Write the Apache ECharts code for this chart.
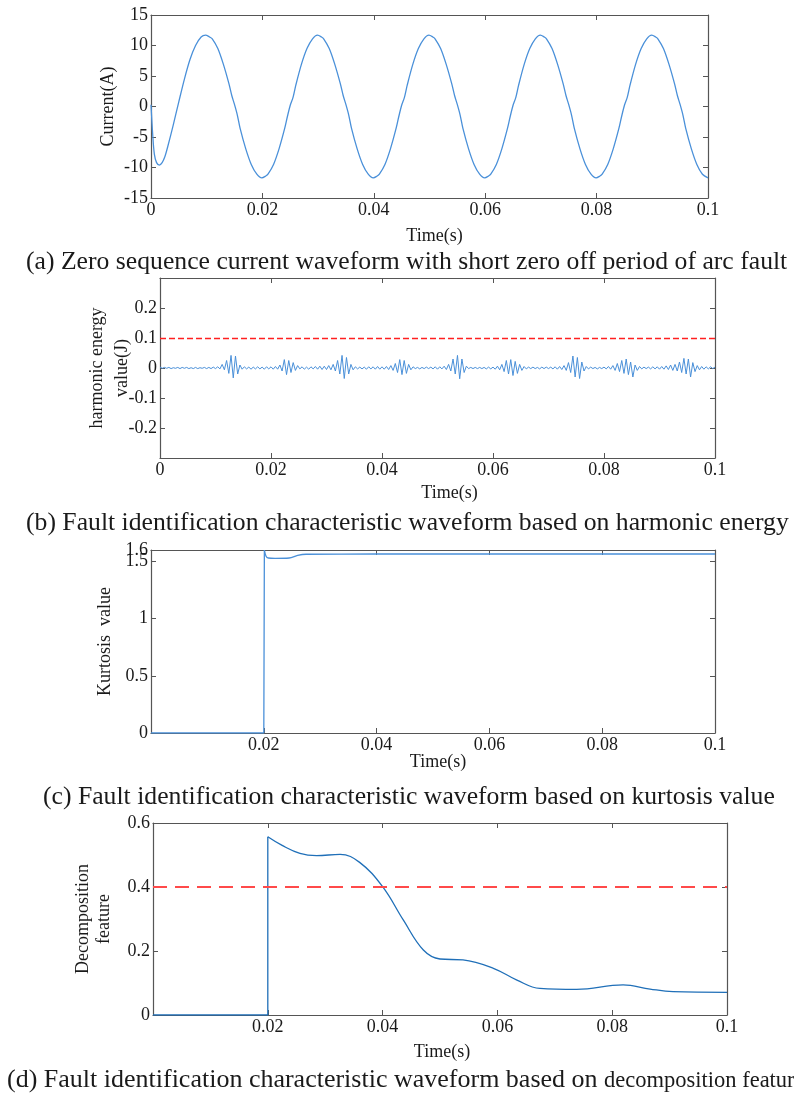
<!DOCTYPE html>
<html>
<head>
<meta charset="utf-8">
<script src="https://cdn.jsdelivr.net/npm/echarts@6/dist/echarts.min.js"></script>
<style>
  html, body { margin: 0; padding: 0; background: #fff; }
  #chart { width: 794px; height: 1093px; }
</style>
</head>
<body>
<div id="chart"></div>
<script>
// (a) zero sequence current, [time s, current A]
const currentWave = [
  [0, 0.3], [0.0003, -4.5], [0.0006, -7.8], [0.001, -9.2], [0.0015, -9.6], [0.002, -9.2],
  [0.0025, -8.2], [0.003, -6.6], [0.004, -3.0], [0.005, 0.8], [0.006, 4.5], [0.007, 7.7],
  [0.008, 10.0], [0.009, 11.4], [0.0098, 11.7], [0.0105, 11.4], [0.011, 11.1], [0.012, 9.5],
  [0.013, 6.9], [0.014, 3.7], [0.0145, 1.8], [0.015, 0.3], [0.0155, -1.4], [0.016, -3.6],
  [0.017, -6.9], [0.018, -9.5], [0.019, -11.1], [0.0199, -11.7],
  [0.0206, -11.4], [0.021, -11.1], [0.022, -9.5], [0.023, -6.9], [0.024, -3.6], [0.0245, -1.6],
  [0.025, 0.2], [0.0255, 1.5], [0.026, 3.5], [0.027, 6.9], [0.028, 9.5], [0.029, 11.1],
  [0.0299, 11.7], [0.0306, 11.4], [0.031, 11.1], [0.032, 9.5], [0.033, 6.9], [0.034, 3.7],
  [0.0345, 1.8], [0.035, 0.3], [0.0355, -1.4], [0.036, -3.6], [0.037, -6.9], [0.038, -9.5],
  [0.039, -11.1], [0.0399, -11.7],
  [0.0406, -11.4], [0.041, -11.1], [0.042, -9.5], [0.043, -6.9], [0.044, -3.6], [0.0445, -1.6],
  [0.045, 0.2], [0.0455, 1.5], [0.046, 3.5], [0.047, 6.9], [0.048, 9.5], [0.049, 11.1],
  [0.0499, 11.7], [0.0506, 11.4], [0.051, 11.1], [0.052, 9.5], [0.053, 6.9], [0.054, 3.7],
  [0.0545, 1.8], [0.055, 0.3], [0.0555, -1.4], [0.056, -3.6], [0.057, -6.9], [0.058, -9.5],
  [0.059, -11.1], [0.0599, -11.7],
  [0.0606, -11.4], [0.061, -11.1], [0.062, -9.5], [0.063, -6.9], [0.064, -3.6], [0.0645, -1.6],
  [0.065, 0.2], [0.0655, 1.5], [0.066, 3.5], [0.067, 6.9], [0.068, 9.5], [0.069, 11.1],
  [0.0699, 11.7], [0.0706, 11.4], [0.071, 11.1], [0.072, 9.5], [0.073, 6.9], [0.074, 3.7],
  [0.0745, 1.8], [0.075, 0.3], [0.0755, -1.4], [0.076, -3.6], [0.077, -6.9], [0.078, -9.5],
  [0.079, -11.1], [0.0799, -11.7],
  [0.0806, -11.4], [0.081, -11.1], [0.082, -9.5], [0.083, -6.9], [0.084, -3.6], [0.0845, -1.6],
  [0.085, 0.2], [0.0855, 1.5], [0.086, 3.5], [0.087, 6.9], [0.088, 9.5], [0.089, 11.1],
  [0.0899, 11.7], [0.0906, 11.4], [0.091, 11.1], [0.092, 9.5], [0.093, 6.9], [0.094, 3.7],
  [0.0945, 1.8], [0.095, 0.3], [0.0955, -1.4], [0.096, -3.6], [0.097, -6.9], [0.098, -9.5],
  [0.099, -11.1], [0.1, -11.7]
];

// (b) harmonic energy, one value every 0.0004 s from 0 to 0.1
const harmonicStep = 0.0004;
const harmonicEnergy = [
  0.003, -0.001, 0.002, -0.001, 0.002, -0.002, 0.001, -0.001, 0.002, -0.002, 0.002, -0.001, 0.002,
  -0.002, 0.001, -0.002, 0.002, -0.002, 0.001, -0.001, 0.002, -0.002, 0.002, -0.002, 0.003,
  -0.002, 0.004, -0.003, 0.012, -0.006, 0.025, -0.018, 0.042, -0.033, 0.04, -0.02, 0.01, -0.004,
  0.004, -0.003, 0.003, -0.004, 0.003, -0.003, 0.004, -0.003, 0.003, -0.004, 0.004, -0.003,
  0.004, -0.004, 0.005, -0.004, 0.01, -0.01, 0.028, -0.022, 0.025, -0.015, 0.018, -0.008, 0.008,
  -0.003, 0.004, -0.004, 0.003, -0.004, 0.004, -0.003, 0.005, -0.004, 0.006, -0.005, 0.006,
  -0.005, 0.008, -0.006, 0.012, -0.01, 0.025, -0.02, 0.042, -0.035, 0.035, -0.02, 0.012, -0.006,
  0.004, -0.003, 0.003, -0.003, 0.003, -0.004, 0.004, -0.003, 0.004, -0.004, 0.005, -0.004,
  0.004, -0.004, 0.005, -0.005, 0.008, -0.008, 0.015, -0.015, 0.028, -0.022, 0.025, -0.018, 0.012,
  -0.006, 0.004, -0.002, 0.002, -0.003, 0.002, -0.002, 0.003, -0.002, 0.003, -0.003, 0.004,
  -0.004, 0.004, -0.003, 0.006, -0.005, 0.012, -0.01, 0.03, -0.02, 0.042, -0.036, 0.03, -0.015,
  0.006, -0.002, 0.002, -0.002, 0.002, -0.002, 0.002, -0.002, 0.002, -0.003, 0.003, -0.003,
  0.003, -0.004, 0.006, -0.006, 0.012, -0.012, 0.025, -0.02, 0.028, -0.025, 0.022, -0.018, 0.012,
  -0.008, 0.005, -0.003, 0.003, -0.002, 0.003, -0.002, 0.002, -0.003, 0.003, -0.002, 0.003,
  -0.002, 0.003, -0.003, 0.004, -0.004, 0.005, -0.005, 0.008, -0.008, 0.018, -0.015, 0.04, -0.03,
  0.035, -0.035, 0.02, -0.01, 0.005, -0.003, 0.003, -0.002, 0.002, -0.003, 0.002, -0.002,
  0.003, -0.003, 0.005, -0.004, 0.008, -0.008, 0.015, -0.012, 0.025, -0.018, 0.03, -0.022, 0.02,
  -0.03, 0.01, -0.008, 0.005, -0.003, 0.003, -0.002, 0.003, -0.003, 0.004, -0.003, 0.004,
  -0.004, 0.005, -0.004, 0.007, -0.005, 0.01, -0.008, 0.012, -0.01, 0.02, -0.015, 0.032, -0.02,
  0.03, -0.03, 0.018, -0.012, 0.008, -0.006, 0.005, -0.004, 0.004, -0.003, 0.004, -0.002, 0.003
];
const harmonicThreshold = 0.1;

// (c) kurtosis value, [time s, value]
const kurtosisStep = [[0, 0], [0.02, 0], [0.0201, 1.6]];
const kurtosisRest = [[0.0201, 1.6], [0.0204, 1.545], [0.0208, 1.53], [0.022, 1.527], [0.0245, 1.53],
  [0.026, 1.553], [0.0275, 1.563], [0.04, 1.565], [0.1, 1.565]];
const kurtosisTicks = [0, 0.5, 1, 1.5];
const kurtosisTopTick = [1.6];

// (d) decomposition feature, [time s, value]
const decompStep = [[0, 0], [0.02, 0], [0.02, 0.557]];
const decompRest = [[0.02, 0.557], [0.0225, 0.53], [0.0256, 0.505], [0.0285, 0.498], [0.0326, 0.502],
  [0.036, 0.477], [0.04, 0.401], [0.0436, 0.297], [0.0471, 0.203], [0.05, 0.175], [0.054, 0.172],
  [0.0593, 0.146], [0.0634, 0.109], [0.0674, 0.083], [0.0738, 0.08], [0.0819, 0.094],
  [0.0866, 0.081], [0.0906, 0.073], [0.1, 0.071]];
const decompThreshold = 0.4;

const captions = [
  '(a) Zero sequence current waveform with short zero off period of arc fault',
  '(b) Fault identification characteristic waveform based on harmonic energy',
  '(c) Fault identification characteristic waveform based on kurtosis value',
  '(d) Fault identification characteristic waveform based on ',
  'decomposition feature'
];

const FONT = 'Liberation Serif';
const AX = '#555';
const TXT = '#1a1a1a';

const grids = [
  { left: 151, right: 86, top: 15, height: 183 },
  { left: 160, right: 79, top: 278, height: 180 },
  { left: 151, right: 79, top: 550, height: 183 },
  { left: 153, right: 67, top: 823, height: 192 }
];

function xAxes(gi, nameGap, hideZero, nameShift) {
  const base = {
    gridIndex: gi, type: 'value', min: 0, max: 0.1, interval: 0.02,
    splitLine: { show: false },
    axisLine: { show: true, onZero: false, lineStyle: { color: AX, width: 1.2 } },
    axisTick: { show: true, inside: true, length: 5, lineStyle: { color: AX } }
  };
  return [
    Object.assign({}, base, {
      position: 'bottom',
      name: 'Time(s)', nameLocation: 'middle', nameGap: nameGap, nameMoveOverlap: false,
      nameTextStyle: { fontFamily: FONT, fontSize: 18, color: TXT, padding: [0, 0, 0, nameShift || 0] },
      axisLabel: { fontFamily: FONT, fontSize: 18, color: TXT, margin: 3, showMinLabel: !hideZero }
    }),
    Object.assign({}, base, { position: 'top', axisLabel: { show: false } })
  ];
}

function yAxes(gi, cfg) {
  const base = {
    gridIndex: gi, type: 'value', min: cfg.min, max: cfg.max, interval: cfg.interval,
    splitLine: { show: false },
    axisLine: { show: true, onZero: false, lineStyle: { color: AX, width: 1.2 } },
    axisTick: Object.assign({ show: true, inside: true, length: 5, lineStyle: { color: AX } },
      cfg.labelValues ? { customValues: cfg.labelValues } : {})
  };
  const label = { fontFamily: FONT, fontSize: 18, color: TXT, margin: 3, hideOverlap: false,
    showMinLabel: cfg.edgeLabels !== false, showMaxLabel: cfg.edgeLabels !== false };
  if (cfg.labelValues) label.customValues = cfg.labelValues;
  return [
    Object.assign({}, base, {
      position: 'left',
      name: cfg.name, nameLocation: 'middle', nameGap: cfg.nameGap, nameRotate: 90,
      nameMoveOverlap: false,
      nameTextStyle: { fontFamily: FONT, fontSize: 18, color: TXT, lineHeight: cfg.lineHeight || 20 },
      axisLabel: label
    }),
    Object.assign({}, base, { position: 'right', axisLabel: { show: false } })
  ];
}

const xAxis = [].concat(
  xAxes(0, 29, false, 10), xAxes(1, 26, false, 24), xAxes(2, 20, true, 10), xAxes(3, 28, true, 4)
);
const yAxis = [].concat(
  yAxes(0, { min: -15, max: 15, interval: 5, name: 'Current(A)', nameGap: 33 }),
  yAxes(1, { min: -0.3, max: 0.3, interval: 0.1, edgeLabels: false,
    name: 'harmonic energy\nvalue(J)', nameGap: 25, lineHeight: 25 }),
  yAxes(2, { min: 0, max: 1.6, labelValues: kurtosisTicks, name: 'Kurtosis  value', nameGap: 36 }),
  yAxes(3, { min: 0, max: 0.6, interval: 0.2, name: 'Decomposition\nfeature', nameGap: 38, lineHeight: 21 }),
  [{
    // extra label-only axis so that 1.6 can sit right above 1.5
    gridIndex: 2, type: 'value', position: 'left', min: 0, max: 1.6,
    axisLine: { show: false }, axisTick: { show: false }, splitLine: { show: false },
    axisLabel: { fontFamily: FONT, fontSize: 18, color: TXT, margin: 3, customValues: kurtosisTopTick }
  }]
);

function line(xi, data, color, extra) {
  return Object.assign({
    type: 'line', xAxisIndex: xi, yAxisIndex: xi, data: data,
    showSymbol: false, symbol: 'none', lineStyle: { color: color, width: 1.3 }, z: 3
  }, extra || {});
}

function threshold(value, color, dash, width) {
  return {
    symbol: 'none', silent: true, label: { show: false },
    lineStyle: { color: color, type: dash, width: width },
    data: [{ yAxis: value }]
  };
}

const chart = echarts.init(document.getElementById('chart'), null, { renderer: 'canvas' });

const titleStyle = { fontFamily: FONT, fontSize: 25.7, fontWeight: 'normal', color: TXT };
chart.setOption({
  animation: false,
  backgroundColor: '#fff',
  title: [
    { text: captions[0], left: 26, top: 249, padding: 0, textStyle: titleStyle },
    { text: captions[1], left: 26, top: 510, padding: 0, textStyle: titleStyle },
    { text: captions[2], left: 43, top: 784, padding: 0, textStyle: titleStyle },
    {
      text: '{a|' + captions[3] + '}{b|' + captions[4] + '}', left: 7, top: 1067, padding: 0,
      textStyle: {
        fontWeight: 'normal',
        rich: {
          a: { fontFamily: FONT, fontSize: 26, fontWeight: 'normal', color: TXT, verticalAlign: 'bottom' },
          b: { fontFamily: FONT, fontSize: 22.5, fontWeight: 'normal', color: TXT, verticalAlign: 'bottom' }
        }
      }
    }
  ],
  grid: grids,
  xAxis: xAxis,
  yAxis: yAxis,
  series: [
    line(0, currentWave, '#4a90d9', { smooth: 0.3 }),
    line(2, harmonicEnergy.map((v, i) => [i * harmonicStep, v]), '#4a90d9', {
      lineStyle: { color: '#4a90d9', width: 1 },
      markLine: threshold(harmonicThreshold, '#ff2020', [6, 3], 1.3)
    }),
    line(4, kurtosisStep, '#4a90d9'),
    line(4, kurtosisRest, '#4a90d9', { smooth: 0.3 }),
    line(6, decompStep, '#1f6fb8'),
    line(6, decompRest, '#1f6fb8', {
      smooth: 0.4,
      markLine: threshold(decompThreshold, '#ff4a4a', [14, 8], 2)
    })
  ]
});
</script>
</body>
</html>
